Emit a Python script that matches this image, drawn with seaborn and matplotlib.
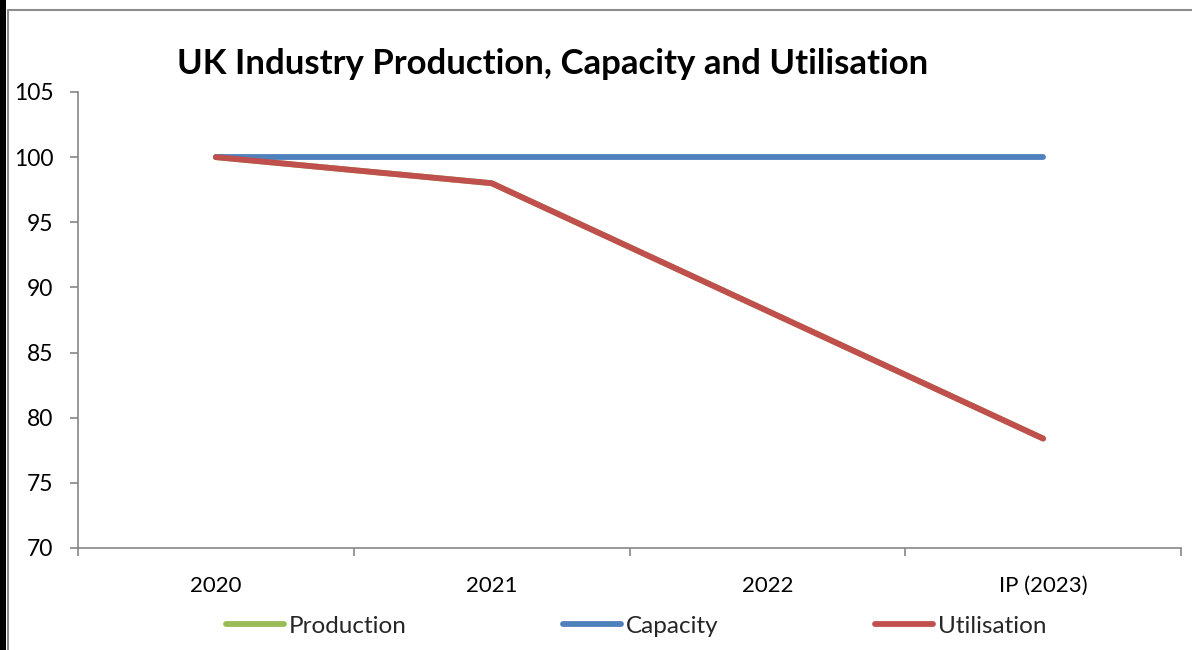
import matplotlib
matplotlib.use("Agg")
import matplotlib.pyplot as plt
from matplotlib.patches import Rectangle
import seaborn as sns
import pandas as pd

# Index values (2020 = 100)
years = ["2020", "2021", "2022", "IP (2023)"]
production = [100.0, 98.0, 88.2, 78.4]
capacity = [100.0, 100.0, 100.0, 100.0]
utilisation = [100.0, 98.0, 88.2, 78.4]

series_names = ["Production", "Capacity", "Utilisation"]
series_colors = {"Production": "#9BBB59", "Capacity": "#4F81BD", "Utilisation": "#C0504D"}

rows = []
for name, vals in zip(series_names, [production, capacity, utilisation]):
    for i, v in enumerate(vals):
        rows.append({"pos": i, "year": years[i], "series": name, "value": v})
df = pd.DataFrame(rows)

sns.set_theme(style="white")
plt.rcParams["font.family"] = ["Lato", "DejaVu Sans"]

fig = plt.figure(figsize=(11.92, 6.5), dpi=100)
ax = fig.add_axes([78 / 1192, 102 / 650, (1181 - 78) / 1192, (548 - 92) / 650])

sns.lineplot(data=df, x="pos", y="value", hue="series", hue_order=series_names,
             palette=series_colors, linewidth=4.2, ax=ax, legend=False,
             solid_capstyle="round", solid_joinstyle="round", sort=False)

ax.set_xlim(-0.5, 3.5)
ax.set_ylim(70, 105)
ax.set_yticks(range(70, 106, 5))
ax.set_xticks(range(len(years)))
ax.set_xticklabels(years)
ax.set_xticks([-0.5, 0.5, 1.5, 2.5, 3.5], minor=True)
ax.set_xlabel("")
ax.set_ylabel("")

axis_gray = "#868686"
for side in ["top", "right"]:
    ax.spines[side].set_visible(False)
for side in ["left", "bottom"]:
    ax.spines[side].set_color(axis_gray)
    ax.spines[side].set_linewidth(1.2)

ax.tick_params(axis="y", which="major", direction="out", length=5.8, width=1.2,
               color=axis_gray, left=True, labelsize=16.5, labelcolor="black", pad=12)
ax.tick_params(axis="x", which="major", length=0, labelsize=16,
               labelcolor="black", pad=20)
ax.tick_params(axis="x", which="minor", direction="out", length=6, width=1.2,
               color=axis_gray, bottom=True)
ax.grid(False)

fig.text(553 / 1192, 1 - 64 / 650, "UK Industry Production, Capacity and Utilisation",
         ha="center", va="center", fontsize=25, fontweight="bold", color="black")

# Legend entries along the bottom, one slot per series
legend_x = {"Production": 226, "Capacity": 563, "Utilisation": 875}
for name in series_names:
    handle = plt.Line2D([0], [0], color=series_colors[name], linewidth=4.2,
                        solid_capstyle="round")
    fig.legend([handle], [name], loc="center left",
               bbox_to_anchor=(legend_x[name] / 1192, 1 - 626 / 650),
               frameon=False, fontsize=17.5, handlelength=2.4,
               handletextpad=0.2, borderpad=0, borderaxespad=0)

# Chart border
fig.patches.append(Rectangle((0, 0), 6 / 1192, 1, transform=fig.transFigure,
                             facecolor="black", edgecolor="none", zorder=0))
fig.add_artist(plt.Line2D([8 / 1192, 8 / 1192], [0, 1 - 10 / 650],
                          transform=fig.transFigure, color="#8C8C8C", linewidth=1.5))
fig.add_artist(plt.Line2D([8 / 1192, 1], [1 - 10 / 650, 1 - 10 / 650],
                          transform=fig.transFigure, color="#8C8C8C", linewidth=1.5))

fig.savefig("out.png", dpi=100, facecolor="white")
